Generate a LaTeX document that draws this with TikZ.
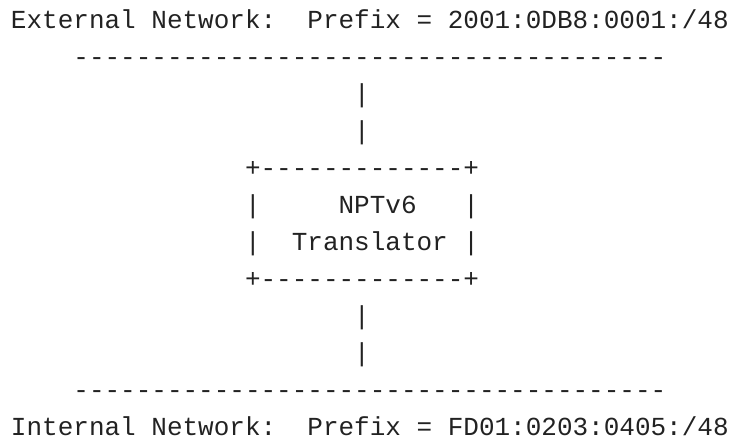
\documentclass[tikz,border=0pt]{standalone}
\usepackage{fontspec}
\setmonofont{Liberation Mono}
\usepackage{tikz}

\definecolor{ink}{RGB}{34,34,34}
\tikzset{
  ascii/.style={anchor=base west, inner sep=0pt, outer sep=0pt, text=ink,
    font=\ttfamily\fontsize{19.5}{19.5}\selectfont}
}

\begin{document}
\begin{tikzpicture}[x=11.7pt, y=-27.75pt]
  \useasboundingbox (-8.25pt,21.2pt) rectangle ++(547.5pt,-330.75pt);
  % external network
  \node[ascii] (extname) at (0,0) {External Network:};
  \node[ascii] (extprefix) at (19,0) {Prefix = 2001:0DB8:0001:/48};
  \node[ascii] (extlink) at (4,1) {--------------------------------------};
  \foreach \r [count=\k] in {2,3}
    \node[ascii] (up\k) at (22,\r) {|};
  % translator box
  \node[ascii] (boxtop) at (15,4) {+-------------+};
  \node[ascii] (boxleftA) at (15,5) {|};
  \node[ascii] (nptv6) at (21,5) {NPTv6};
  \node[ascii] (boxrightA) at (29,5) {|};
  \node[ascii] (boxleftB) at (15,6) {|};
  \node[ascii] (translator) at (18,6) {Translator};
  \node[ascii] (boxrightB) at (29,6) {|};
  \node[ascii] (boxbottom) at (15,7) {+-------------+};
  % internal network
  \foreach \r [count=\k] in {8,9}
    \node[ascii] (down\k) at (22,\r) {|};
  \node[ascii] (intlink) at (4,10) {--------------------------------------};
  \node[ascii] (intname) at (0,11) {Internal Network:};
  \node[ascii] (intprefix) at (19,11) {Prefix = FD01:0203:0405:/48};
\end{tikzpicture}
\end{document}
